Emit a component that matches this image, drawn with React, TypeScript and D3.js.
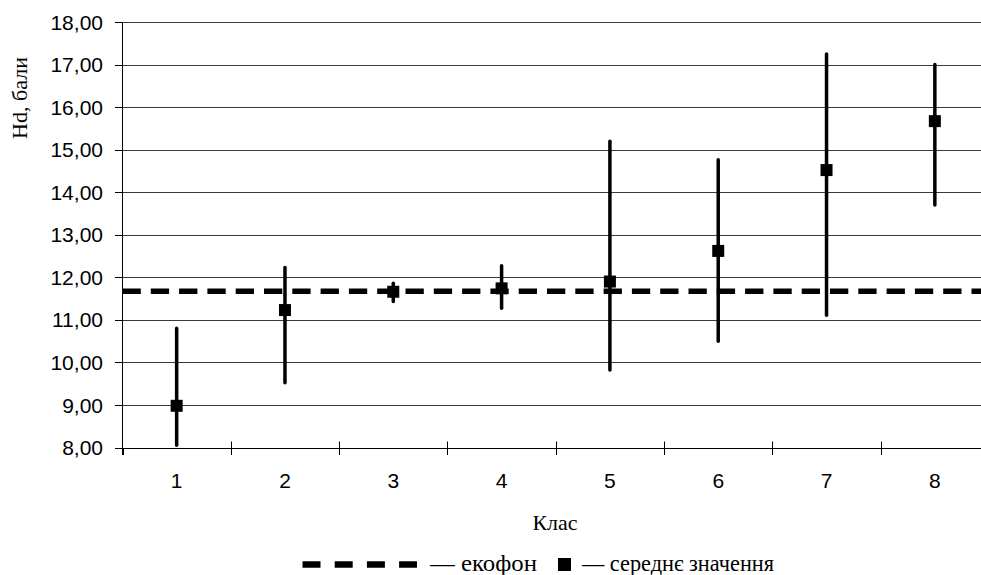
import React from "react";
import * as d3 from "d3";

const categories = ["1", "2", "3", "4", "5", "6", "7", "8"];
const means = [8.98, 11.23, 11.66, 11.74, 11.9, 12.62, 14.52, 15.67];
const lows = [8.05, 9.52, 11.43, 11.27, 9.82, 10.5, 11.11, 13.7];
const highs = [10.8, 12.23, 11.86, 12.27, 15.2, 14.76, 17.25, 17.0];
const ecofon = 11.67;
const yTicks = [8, 9, 10, 11, 12, 13, 14, 15, 16, 17, 18];

const W = 981;
const H = 575;

export default function App() {
  const x = d3.scaleBand<string>().domain(categories).range([122.5, 989]).padding(0);
  const y = d3.scaleLinear().domain([8, 18]).range([447.5, 22]);
  const fmt = (v: number) => v.toFixed(2).replace(".", ",");
  const sans = "'Liberation Sans', Arial, sans-serif";
  const serif = "'Liberation Serif', 'Times New Roman', serif";
  const x0 = 122.5;
  const yAxis = Math.round(y(8)) + 0.5;
  const boundaries = d3.range(categories.length + 1).map((i) => x0 + i * x.bandwidth());

  return (
    <svg width={W} height={H} style={{ position: "absolute", left: 0, top: 0, background: "#fff" }}>
      <rect x={0} y={0} width={W} height={H} fill="#fff" />
      {/* gridlines */}
      {yTicks.filter((t) => t > 8).map((t) => (
        <line key={"g" + t} x1={x0} x2={W} y1={Math.round(y(t)) + 0.5} y2={Math.round(y(t)) + 0.5} stroke="#3a3a3a" strokeWidth={1} />
      ))}
      {/* y ticks and labels */}
      {yTicks.map((t) => (
        <g key={"y" + t}>
          <line x1={115} x2={x0} y1={Math.round(y(t)) + 0.5} y2={Math.round(y(t)) + 0.5} stroke="#000" strokeWidth={1} />
          <text x={103} y={y(t)} dy="0.36em" textAnchor="end" fontFamily={sans} fontSize={21} fill="#000">
            {fmt(t)}
          </text>
        </g>
      ))}
      {/* axes */}
      <line x1={x0} x2={x0} y1={y(18)} y2={455} stroke="#000" strokeWidth={1} />
      <line x1={115} x2={W} y1={yAxis} y2={yAxis} stroke="#000" strokeWidth={1} />
      {boundaries.map((b, i) => (
        <line key={"xt" + i} x1={Math.round(b) + 0.5} x2={Math.round(b) + 0.5} y1={i === 0 ? yAxis : 441.5} y2={455} stroke="#000" strokeWidth={1} />
      ))}
      {categories.map((c) => (
        <text key={"xl" + c} x={(x(c) as number) + x.bandwidth() / 2} y={488} textAnchor="middle" fontFamily={sans} fontSize={21} fill="#000">
          {c}
        </text>
      ))}
      {/* ecofon line */}
      <line x1={x0} x2={W} y1={y(ecofon)} y2={y(ecofon)} stroke="#000" strokeWidth={5.5} strokeDasharray="18.3 10" />
      {/* error bars */}
      {categories.map((c, i) => {
        const cx = (x(c) as number) + x.bandwidth() / 2;
        return (
          <g key={"e" + c}>
            <line x1={cx} x2={cx} y1={y(lows[i])} y2={y(highs[i])} stroke="#000" strokeWidth={3.5} strokeLinecap="round" />
            <rect x={cx - 6} y={y(means[i]) - 6} width={12} height={12} fill="#000" />
          </g>
        );
      })}
      {/* axis titles */}
      <text x={555} y={530} textAnchor="middle" fontFamily={serif} fontSize={22} fill="#000">
        Клас
      </text>
      <text transform={`translate(27,98) rotate(-90)`} textAnchor="middle" fontFamily={serif} fontSize={22} fill="#000">
        Hd, бали
      </text>
      {/* legend */}
      <line x1={302.5} x2={417} y1={564.5} y2={564.5} stroke="#000" strokeWidth={6.5} strokeDasharray="18 14.2" />
      <text x={430} y={570.5} fontFamily={serif} fontSize={23} fill="#000" textLength={107} lengthAdjust="spacingAndGlyphs">— екофон</text>
      <rect x={558} y={558} width={13} height={13} fill="#000" />
      <text x={582} y={570.5} fontFamily={serif} fontSize={23} fill="#000" textLength={192} lengthAdjust="spacingAndGlyphs">— середнє значення</text>
    </svg>
  );
}
